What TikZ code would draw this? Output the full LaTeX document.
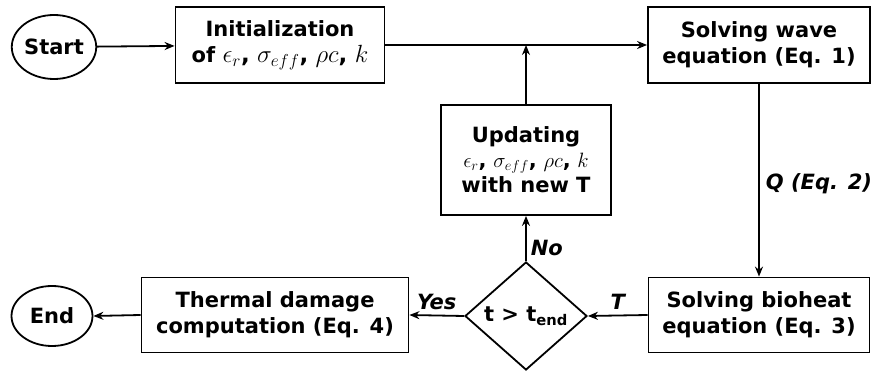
\documentclass[tikz,border=0pt]{standalone}
\usepackage{fontspec}
\setmainfont{DejaVu Sans}[BoldFont={DejaVu Sans Bold},BoldItalicFont={DejaVu Sans Bold Oblique}]
\usetikzlibrary{shapes.geometric,arrows.meta}
\begin{document}
\begin{tikzpicture}[x=1pt,y=-1pt,
  every node/.style={font=\fontsize{21}{26}\selectfont\bfseries, align=center, inner sep=0pt},
  box/.style={draw, line width=1.8pt, rectangle},
  oval/.style={draw, line width=1.8pt, ellipse},
  dia/.style={draw, line width=1.8pt, diamond},
  conn/.style={line width=1.8pt, -{Stealth[length=10pt,width=8pt]}},
  lab/.style={font=\fontsize{21}{26}\selectfont\bfseries\itshape}]
\useasboundingbox (0,0) rectangle (879,371);
\node[oval, minimum width=84pt, minimum height=64pt] (start) at (54,47) {Start};
\node[box, minimum width=209pt, minimum height=76pt] (init) at (280,45)
  {Initialization\\of {\normalfont\fontsize{23}{26}\selectfont$\epsilon_r$\textbf{,} $\sigma_{eff}$\textbf{,} $\rho c$\textbf{,} $k$}};
\node[box, minimum width=222pt, minimum height=76pt] (wave) at (759,45)
  {Solving wave\\equation (Eq. 1)};
\node[box, minimum width=170pt, minimum height=110pt] (upd) at (526,160)
  {Updating\\[-1pt]{\normalfont\fontsize{21}{24}\selectfont$\epsilon_r$\textbf{,} $\sigma_{eff}$\textbf{,} $\rho c$\textbf{,} $k$}\\[-1pt]with new T};
\node[box, minimum width=221pt, minimum height=75pt] (bio) at (759,315)
  {Solving bioheat\\equation (Eq. 3)};
\node[dia, minimum width=122pt, minimum height=108pt] (dec) at (526,316)
  {t > t\textsubscript{end}};
\node[box, minimum width=267pt, minimum height=75pt] (therm) at (275,315)
  {Thermal damage\\computation (Eq. 4)};
\node[oval, minimum width=81pt, minimum height=60pt] (end) at (52,316) {End};
\coordinate (j) at (upd.north |- init.east);
\draw[conn] (start) -- (init);
\draw[conn] (init.east) -- (wave.west);
\draw[conn] (upd.north) -- (j);
\draw[conn] (wave.south) -- node[lab, right=6pt, pos=0.52] {Q (Eq. 2)} (bio.north);
\draw[conn] (bio.west) -- node[lab, above=5pt] {T} (dec.east);
\draw[conn] (dec.north) -- node[lab, right=4pt, pos=0.3] {No} (upd.south);
\draw[conn] (dec.west) -- node[lab, above=5pt] {Yes} (therm.east);
\draw[conn] (therm.west) -- (end.east);
\end{tikzpicture}
\end{document}
